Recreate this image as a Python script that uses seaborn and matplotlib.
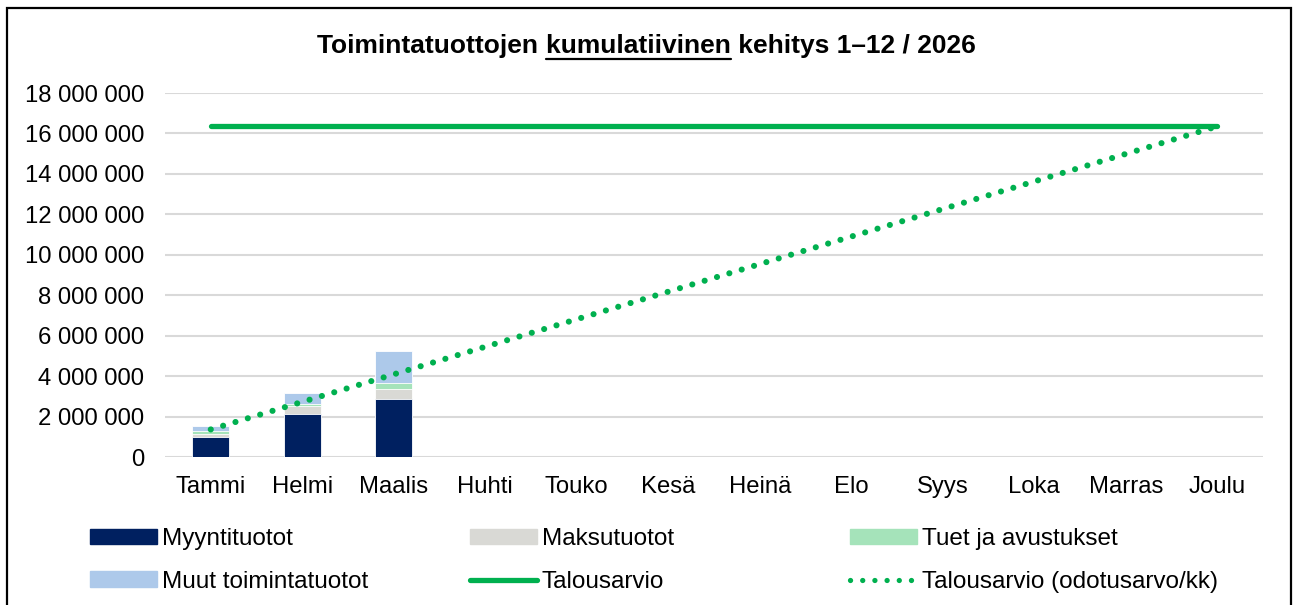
import matplotlib
matplotlib.use("Agg")
import matplotlib.pyplot as plt
from matplotlib.patches import Rectangle, Patch
from matplotlib.lines import Line2D
import seaborn as sns
import numpy as np
import pandas as pd

# data
months = ["Tammi", "Helmi", "Maalis", "Huhti", "Touko", "Kesä",
          "Heinä", "Elo", "Syys", "Loka", "Marras", "Joulu"]
myynti = [1000000, 2130000, 2850000] + [np.nan] * 9
maksu = [150000, 390000, 500000] + [np.nan] * 9
tuet = [120000, 100000, 310000] + [np.nan] * 9
muut = [260000, 560000, 1600000] + [np.nan] * 9
talousarvio = [16350000] * 12
odotusarvo = [1362500, 2725000, 4087500, 5450000, 6812500, 8175000,
              9537500, 10900000, 12262500, 13625000, 14987500, 16350000]

c_myynti = "#002060"
c_maksu = "#d9d9d5"
c_tuet = "#a5e3ba"
c_muut = "#adc9ea"
c_green = "#00b04f"

sns.set_theme(style="white")
plt.rcParams["font.family"] = ["Liberation Sans", "DejaVu Sans"]
plt.rcParams["text.color"] = "black"
plt.rcParams["xtick.color"] = "black"
plt.rcParams["ytick.color"] = "black"

df = pd.DataFrame({"kk": months, "Myyntituotot": myynti, "Maksutuotot": maksu,
                   "Tuet": tuet, "Muut": muut})
df["s1"] = df["Myyntituotot"]
df["s2"] = df["s1"] + df["Maksutuotot"]
df["s3"] = df["s2"] + df["Tuet"]
df["s4"] = df["s3"] + df["Muut"]

fig = plt.figure(figsize=(12.93, 6.05), dpi=100)
ax = fig.add_axes([165 / 1293, 1 - 457 / 605, 1098 / 1293, 364 / 605])

# stacked bars: draw cumulative totals from top segment down
for col, color in [("s4", c_muut), ("s3", c_tuet), ("s2", c_maksu), ("s1", c_myynti)]:
    sns.barplot(data=df, x="kk", y=col, order=months, color=color, width=0.4,
                edgecolor="white", linewidth=0.6, errorbar=None, saturation=1, ax=ax)

pos = np.arange(len(months))
dots = (0, (0.01, 2.1))
sns.lineplot(x=pos, y=talousarvio, color=c_green, linewidth=3.8,
             solid_capstyle="round", ax=ax)
sns.lineplot(x=pos, y=odotusarvo, color=c_green, linewidth=4.4,
             linestyle=dots, dash_capstyle="round", ax=ax)

ax.set_xlim(-0.5, 11.5)
ax.set_ylim(0, 18000000)
ax.set_yticks(np.arange(0, 18000001, 2000000))
ax.set_yticklabels([f"{int(v):,}".replace(",", " ") for v in ax.get_yticks()])
ax.set_xticks(pos)
ax.set_xticklabels(months)
ax.set_xlabel("")
ax.set_ylabel("")
ax.tick_params(axis="y", labelsize=17.2, pad=15, length=0, labelcolor="black")
ax.tick_params(axis="x", labelsize=17.2, pad=14, length=0, labelcolor="black")
ax.grid(axis="y", color="#d9d9d9", linewidth=1.5)
ax.set_axisbelow(True)
for s in ax.spines.values():
    s.set_visible(False)

ty = 1 - 46 / 605
tfs = 19
left = fig.text(0.5, ty, "Toimintatuottojen ", fontsize=tfs, fontweight="bold",
                ha="right", va="center", color="black")
t = fig.text(0.5, ty, "kumulatiivinen kehitys 1–12 / 2026", fontsize=tfs,
             fontweight="bold", ha="left", va="center", color="black")
# shift title so it is centred and underline the one word
fig.canvas.draw()
r = fig.canvas.get_renderer()
wl = left.get_window_extent(r).width
wr = t.get_window_extent(r).width
shift = (wl - wr) / 2 / 1293
left.set_x(0.5 + shift)
t.set_x(0.5 + shift)
u = fig.text(0.5 + shift, ty, "kumulatiivinen", fontsize=tfs,
             fontweight="bold", ha="left", va="center", alpha=0)
fig.canvas.draw()
bb = u.get_window_extent(r)
fig.add_artist(Line2D([bb.x0 / 1293, bb.x1 / 1293], [(bb.y0 - 1) / 605] * 2,
                      transform=fig.transFigure, color="black", linewidth=1.6))

# legend in three columns
hl = dict(handlelength=2.75, handleheight=0.6, handletextpad=0.2, fontsize=17.5,
          frameon=False, labelspacing=0.85, loc="upper left", borderaxespad=0,
          borderpad=0, labelcolor="black")
cols = [
    [(Patch(color=c_myynti), "Myyntituotot"), (Patch(color=c_muut), "Muut toimintatuotot")],
    [(Patch(color=c_maksu), "Maksutuotot"),
     (Line2D([], [], color=c_green, linewidth=3.8, solid_capstyle="round"), "Talousarvio")],
    [(Patch(color=c_tuet), "Tuet ja avustukset"),
     (Line2D([], [], color=c_green, linewidth=3.8, linestyle=(0, (0.01, 2.3)),
             dash_capstyle="round"), "Talousarvio (odotusarvo/kk)")],
]
for x0, items in zip([90, 470, 850], cols):
    fig.legend([h for h, _ in items], [l for _, l in items],
               bbox_to_anchor=(x0 / 1293, 1 - 528 / 605), **hl)

fig.add_artist(Rectangle((7 / 1293, -0.05), 1284 / 1293, 1.05 - 8 / 605,
                         transform=fig.transFigure, fill=False,
                         edgecolor="black", linewidth=1.6))

fig.savefig("out.png", dpi=100)
